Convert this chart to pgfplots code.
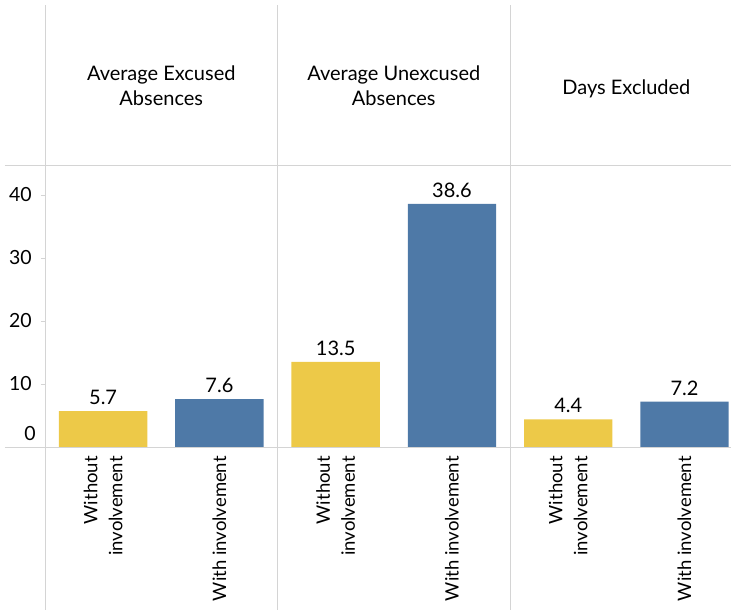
\documentclass[border=0pt]{standalone}
\usepackage{fontspec}
\setmainfont{Lato}
\usepackage{pgfplots}
\pgfplotsset{compat=1.18}
\definecolor{cyel}{HTML}{EDC948}
\definecolor{cblu}{HTML}{4E79A7}
\definecolor{cgrid}{HTML}{D4D4D4}
\begin{document}
\begin{tikzpicture}
\begin{axis}[
  name=ax, at={(0,0)}, anchor=south west,
  scale only axis, width=686pt, height=281pt,
  xmin=0, xmax=5.9, ymin=0, ymax=44.6,
  axis line style={draw=none},
  clip=false,
  ybar, bar width=0.76, bar shift=0pt,
  /pgf/number format/assume math mode=true,
  xtick={0.5,1.5,2.5,3.5,4.5,5.5},
  xticklabels={{Without\\involvement},{With involvement},{Without\\involvement},{With involvement},{Without\\involvement},{With involvement}},
  xticklabel style={rotate=90, anchor=east, align=right, font=\fontsize{18.5}{25}\selectfont, inner sep=5pt},
  x tick style={draw=none},
  ytick={10,20,30,40},
  ytick pos=left,
  tick align=outside,
  major tick length=4pt,
  y tick style={draw=cgrid, line width=0.6pt},
  yticklabel style={anchor=east, inner sep=0pt, xshift=-9pt, font=\fontsize{19.5}{22}\selectfont},
  extra y ticks={2.2},
  extra y tick labels={0},
  extra y tick style={major tick length=0pt},
  nodes near coords,
  nodes near coords style={font=\fontsize{20}{22}\selectfont, inner sep=0pt, anchor=south, yshift=6pt,
    /pgf/number format/.cd, fixed, fixed zerofill, precision=1},
]
\addplot[fill=cyel, draw=none] coordinates {(0.5,5.7) (2.5,13.5) (4.5,4.4)};
\addplot[fill=cblu, draw=none] coordinates {(1.5,7.6) (3.5,38.6) (5.5,7.2)};
\draw[cgrid, line width=1pt] (axis cs:0,0) ++(-40pt,0) -- (axis cs:5.9,0);
\draw[cgrid, line width=1pt] (axis cs:0,44.6) ++(-40pt,0) -- (axis cs:5.9,44.6);
\draw[cgrid, line width=1pt] (axis cs:0,0) ++(0,-163pt) -- ++(0,605pt);
\draw[cgrid, line width=1pt] (axis cs:2,0) ++(0,-163pt) -- ++(0,605pt);
\draw[cgrid, line width=1pt] (axis cs:4,0) ++(0,-163pt) -- ++(0,605pt);
\node[align=center, font=\fontsize{20}{25}\selectfont] at (axis cs:1,57.4) {Average Excused\\Absences};
\node[align=center, font=\fontsize{20}{25}\selectfont] at (axis cs:3,57.4) {Average Unexcused\\Absences};
\node[align=center, font=\fontsize{20}{25}\selectfont] at (axis cs:5,56.9) {Days Excluded};
\end{axis}
\pgfresetboundingbox
\useasboundingbox (-45pt,-163pt) rectangle (686pt,447pt);
\end{tikzpicture}
\end{document}
